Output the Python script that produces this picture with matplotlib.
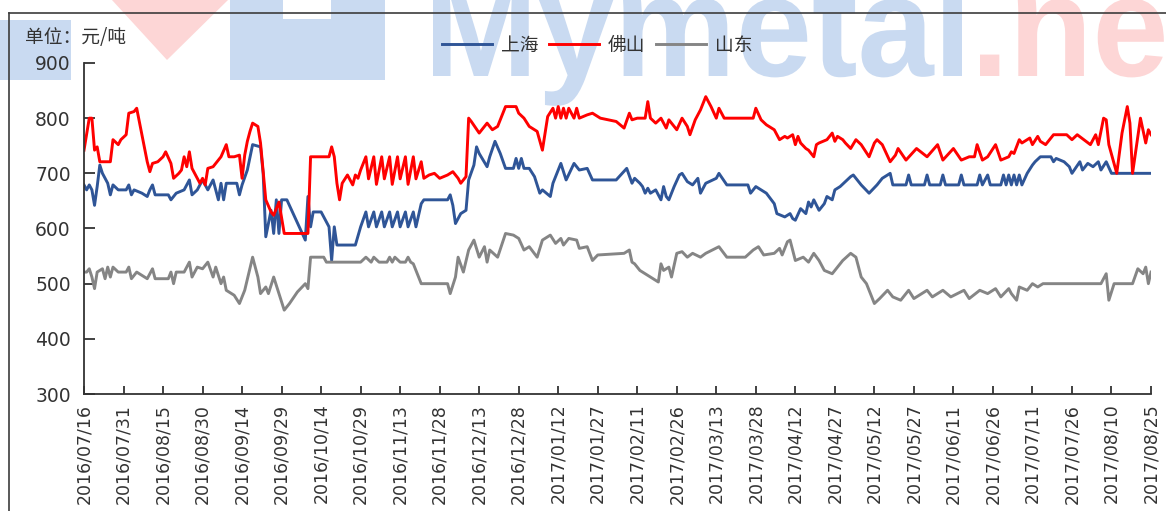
import pandas as pd
import matplotlib
matplotlib.use('Agg')
import matplotlib.pyplot as plt
from matplotlib.textpath import TextPath
from matplotlib.patches import PathPatch, Rectangle, Polygon
from matplotlib.font_manager import FontProperties
from matplotlib.transforms import Affine2D
from matplotlib.lines import Line2D

# days counted from 2016/07/16, prices in yuan/ton
start = pd.Timestamp('2016-07-16')
end = pd.Timestamp('2017-08-25')

sh_day = [0, 1, 2, 3, 4, 5, 6, 7, 9, 10, 11, 13, 16, 17, 18, 19, 22, 24, 25, 26, 27, 32, 33, 35, 38, 40,
          41, 43, 44, 45, 47, 49, 51, 52, 53, 54, 58, 59, 60, 62, 64, 67, 68, 69, 71, 72, 73, 74, 75, 77,
          84, 85, 86, 87, 90, 93, 94, 95, 96, 103, 105, 107, 108, 110, 111, 113, 114, 116, 117, 119, 120,
          122, 123, 125, 126, 128, 129, 138, 139, 140, 141, 143, 145, 146, 148, 149, 150, 153, 154, 156,
          158, 160, 163, 164, 165, 166, 167, 169, 171, 173, 174, 177, 178, 181, 183, 186, 188, 191, 193,
          202, 206, 208, 209, 211, 212, 213, 214, 215, 217, 219, 220, 221, 222, 224, 226, 227, 229, 231,
          233, 234, 236, 240, 241, 244, 252, 253, 255, 256, 259, 262, 263, 266, 268, 269, 270, 272, 274,
          275, 276, 277, 279, 281, 282, 284, 285, 287, 291, 292, 295, 298, 301, 303, 306, 307, 312, 313,
          314, 319, 320, 321, 325, 326, 327, 332, 333, 334, 339, 340, 341, 343, 344, 348, 349, 350, 351,
          352, 353, 354, 355, 356, 358, 360, 361, 363, 367, 368, 369, 372, 374, 375, 378, 379, 381, 383,
          385, 386, 388, 390, 405]
sh_val = [679, 670, 679, 670, 642, 676, 715, 700, 682, 661, 679, 670, 670, 679, 661, 670, 664, 658, 670,
          679, 661, 661, 652, 664, 670, 688, 661, 670, 679, 688, 670, 688, 652, 682, 652, 682, 682, 661,
          679, 706, 752, 748, 700, 585, 633, 591, 652, 591, 652, 652, 579, 658, 603, 630, 630, 603, 542,
          603, 570, 570, 603, 630, 603, 630, 603, 630, 603, 630, 603, 630, 603, 630, 603, 630, 603, 645,
          652, 652, 661, 642, 609, 627, 633, 688, 715, 748, 736, 712, 730, 758, 736, 709, 709, 727, 709,
          727, 709, 709, 694, 664, 670, 658, 682, 718, 688, 718, 706, 709, 688, 688, 709, 682, 691, 682,
          676, 664, 673, 664, 670, 652, 676, 658, 652, 676, 697, 700, 685, 679, 691, 664, 682, 691, 700,
          679, 679, 664, 676, 673, 664, 645, 627, 621, 627, 618, 615, 636, 627, 648, 639, 652, 633, 645,
          658, 652, 670, 676, 694, 697, 679, 664, 679, 691, 700, 679, 679, 697, 679, 679, 697, 679, 679,
          697, 679, 679, 697, 679, 679, 697, 679, 697, 679, 679, 697, 679, 697, 679, 697, 679, 697, 679,
          700, 715, 721, 730, 730, 721, 727, 721, 712, 700, 721, 706, 718, 712, 721, 706, 721, 700, 700]

fs_day = [0, 2, 3, 4, 5, 6, 10, 11, 13, 14, 16, 17, 19, 20, 24, 25, 26, 28, 30, 31, 33, 34, 36, 37, 38,
          39, 40, 41, 43, 44, 45, 46, 47, 49, 52, 54, 55, 57, 59, 60, 61, 62, 63, 64, 66, 67, 69, 71, 72,
          74, 76, 85, 86, 93, 94, 95, 96, 97, 98, 100, 102, 103, 104, 105, 107, 108, 110, 111, 113, 114,
          116, 117, 119, 120, 122, 123, 125, 126, 128, 129, 131, 133, 135, 138, 140, 142, 143, 145, 146,
          147, 150, 153, 155, 157, 160, 164, 165, 167, 169, 172, 174, 175, 176, 178, 179, 180, 181, 182,
          183, 184, 186, 187, 188, 191, 193, 196, 202, 205, 207, 208, 210, 213, 214, 215, 217, 219, 221,
          222, 224, 225, 227, 229, 230, 232, 234, 236, 238, 240, 241, 243, 254, 255, 257, 259, 262, 264,
          266, 267, 269, 270, 271, 272, 274, 275, 277, 278, 279, 282, 284, 285, 286, 288, 289, 291, 293,
          295, 298, 300, 301, 303, 306, 308, 309, 312, 316, 320, 324, 326, 330, 333, 336, 338, 339, 341,
          343, 346, 348, 351, 352, 353, 355, 356, 359, 360, 362, 363, 365, 368, 373, 375, 377, 382, 384,
          385, 387, 388, 389, 392, 394, 396, 397, 398, 400, 401, 403, 404, 405]
fs_val = [742, 800, 800, 742, 748, 721, 721, 761, 752, 761, 770, 809, 812, 818, 721, 703, 718, 721, 730,
          739, 718, 691, 700, 706, 730, 712, 739, 709, 691, 682, 691, 679, 709, 712, 730, 752, 730, 730,
          733, 691, 733, 758, 776, 791, 785, 755, 652, 630, 624, 648, 591, 591, 730, 730, 748, 730, 682,
          652, 682, 697, 679, 697, 691, 706, 730, 690, 730, 680, 730, 690, 730, 680, 730, 690, 730, 680,
          730, 690, 721, 691, 697, 700, 691, 697, 703, 691, 682, 694, 800, 794, 773, 791, 779, 785, 821,
          821, 809, 800, 785, 776, 742, 773, 803, 818, 800, 821, 800, 818, 800, 818, 800, 818, 800, 806,
          809, 800, 794, 782, 809, 797, 800, 800, 830, 800, 791, 800, 782, 797, 785, 779, 800, 785, 770,
          797, 815, 839, 821, 800, 818, 800, 800, 818, 797, 788, 779, 761, 767, 764, 770, 752, 767, 755,
          745, 742, 730, 752, 755, 761, 773, 758, 767, 761, 755, 745, 761, 752, 730, 755, 761, 752, 721,
          733, 745, 724, 745, 730, 752, 724, 745, 724, 730, 730, 752, 724, 730, 752, 724, 730, 739, 736,
          761, 755, 764, 752, 767, 758, 752, 770, 770, 761, 770, 752, 770, 752, 800, 797, 752, 700, 773,
          821, 791, 700, 767, 800, 755, 779, 770]

sd_day = [0, 1, 2, 3, 4, 5, 7, 8, 9, 10, 11, 13, 16, 17, 18, 20, 22, 24, 26, 27, 32, 33, 34, 35, 38, 40,
          41, 43, 45, 47, 49, 50, 52, 53, 54, 57, 59, 61, 64, 66, 67, 69, 70, 72, 76, 78, 81, 84, 85, 86,
          91, 92, 105, 107, 109, 110, 112, 115, 116, 117, 118, 120, 122, 123, 124, 125, 128, 138, 139,
          141, 142, 144, 146, 148, 150, 152, 153, 154, 157, 160, 163, 165, 167, 169, 172, 174, 177, 179,
          181, 182, 184, 187, 188, 191, 193, 195, 205, 207, 208, 209, 211, 213, 215, 218, 219, 220, 222,
          223, 225, 227, 229, 231, 234, 236, 241, 244, 251, 254, 256, 258, 262, 264, 265, 267, 268, 270,
          273, 275, 277, 279, 281, 284, 288, 291, 293, 295, 297, 300, 302, 305, 307, 310, 313, 315, 320,
          322, 326, 329, 334, 336, 340, 343, 346, 348, 351, 352, 354, 355, 358, 360, 362, 364, 386, 388,
          389, 391, 398, 400, 402, 403, 404, 405]
sd_val = [521, 521, 527, 512, 491, 521, 527, 509, 530, 512, 530, 521, 521, 530, 509, 521, 515, 509, 527,
          509, 509, 521, 500, 521, 521, 539, 512, 530, 527, 539, 512, 530, 500, 512, 488, 479, 464, 488,
          548, 512, 482, 494, 482, 512, 452, 464, 485, 500, 491, 548, 548, 539, 539, 548, 539, 548, 539,
          539, 548, 539, 548, 539, 539, 548, 539, 536, 500, 500, 482, 512, 548, 521, 561, 579, 548, 567,
          539, 561, 548, 591, 588, 582, 561, 567, 548, 579, 588, 573, 582, 570, 582, 579, 564, 567, 542,
          552, 555, 561, 539, 536, 524, 518, 512, 503, 536, 524, 530, 512, 555, 558, 548, 555, 548, 555,
          567, 548, 548, 561, 567, 552, 555, 564, 552, 576, 579, 542, 548, 539, 555, 542, 524, 518, 542,
          555, 548, 512, 500, 464, 473, 488, 476, 470, 488, 473, 488, 476, 488, 476, 488, 473, 488, 482,
          491, 476, 491, 482, 470, 494, 488, 500, 494, 500, 500, 518, 470, 500, 500, 527, 518, 530, 500,
          521]

series = ['上海', '佛山', '山东']
colors = ['#2f5597', '#ff0000', '#858585']

W, H = 1166, 511
fig = plt.figure(figsize=(W / 100, H / 100), dpi=100)
plt.rcParams['font.family'] = ['DejaVu Sans', 'Noto Sans CJK SC']
cjk = ['Noto Sans CJK SC', 'DejaVu Sans']

# watermark (site logo) behind the chart
wm_blue = '#c9daf1'
wm_pink = '#fdd6d6'
fig.add_artist(Rectangle((0, 1 - 80 / H), 71 / W, 60 / H, transform=fig.transFigure,
                         fc=wm_blue, ec='none', zorder=-5))
fig.add_artist(Polygon([(112 / W, 1), (228 / W, 1), (167 / W, 1 - 60 / H)], closed=True,
                       transform=fig.transFigure, fc=wm_pink, ec='none', zorder=-5))
fig.add_artist(Rectangle((230 / W, 1 - 80 / H), 155 / W, 80 / H, transform=fig.transFigure,
                         fc=wm_blue, ec='none', zorder=-5))
fig.add_artist(Rectangle((283 / W, 1 - 19 / H), 48 / W, 19 / H, transform=fig.transFigure,
                         fc='white', ec='none', zorder=-4))

fp_wm = FontProperties(family='Liberation Sans', weight='bold')
xh = TextPath((0, 0), 'x', size=1, prop=fp_wm).get_extents().height
tp1 = TextPath((0, 0), 'Mymetal', size=1, prop=fp_wm)
e1 = tp1.get_extents()
sx = (962 - 433) / e1.width
sy = 76 / xh
fig.add_artist(PathPatch(tp1, transform=Affine2D().translate(-e1.x0, 0).scale(sx, sy).translate(433, H - 76),
                         fc=wm_blue, ec='none', zorder=-5))
tp2 = TextPath((0, 0), '.net', size=1, prop=fp_wm)
e2 = tp2.get_extents()
fig.add_artist(PathPatch(tp2, transform=Affine2D().translate(-e2.x0, 0).scale(sx, sy).translate(980, H - 76),
                         fc=wm_pink, ec='none', zorder=-5))

# outer chart border
fig.add_artist(Line2D([9 / W, 9 / W], [0, 1 - 13 / H], color='#3c3c3c', lw=1.2))
fig.add_artist(Line2D([9 / W, 1], [1 - 13 / H, 1 - 13 / H], color='#3c3c3c', lw=1.2))

ax = fig.add_axes([84 / W, 117 / H, (1151 - 84) / W, 331 / H])
ax.set_facecolor('none')

for name, days, vals, c in zip(series, [sh_day, fs_day, sd_day], [sh_val, fs_val, sd_val], colors):
    dates = start + pd.to_timedelta(days, unit='D')
    ax.plot(dates, vals, color=c, lw=2.1, label=name, solid_joinstyle='round')

ax.set_xlim(start, end)
ax.set_ylim(300, 900)
ax.set_yticks(range(300, 901, 100))
ticks = pd.date_range(start, end, freq='15D')
ax.set_xticks(ticks)
ax.set_xticklabels([t.strftime('%Y/%m/%d') for t in ticks], rotation=90)

for s in ['top', 'right']:
    ax.spines[s].set_visible(False)
for s in ['left', 'bottom']:
    ax.spines[s].set_color('#333333')
    ax.spines[s].set_linewidth(1.3)
ax.tick_params(axis='y', direction='in', length=8, width=1.3, pad=9.5, labelsize=13.5,
               color='#333333', labelcolor='#333333')
ax.tick_params(axis='x', direction='in', length=6, width=1.3, pad=7, labelsize=12.5,
               color='#333333', labelcolor='#333333')

fig.text(25 / W, 1 - 38 / H, '单位：元/吨', family=cjk, fontsize=13.5, color='#333333', va='center')

leg = ax.legend(loc='center', bbox_to_anchor=(597 / W, 1 - 45 / H), bbox_transform=fig.transFigure,
                ncol=3, frameon=False, handlelength=2.7, handletextpad=0.45, columnspacing=0.55,
                prop=FontProperties(family=cjk, size=13.5))
for t in leg.get_texts():
    t.set_color('#333333')

fig.savefig('out.png', dpi=100)
